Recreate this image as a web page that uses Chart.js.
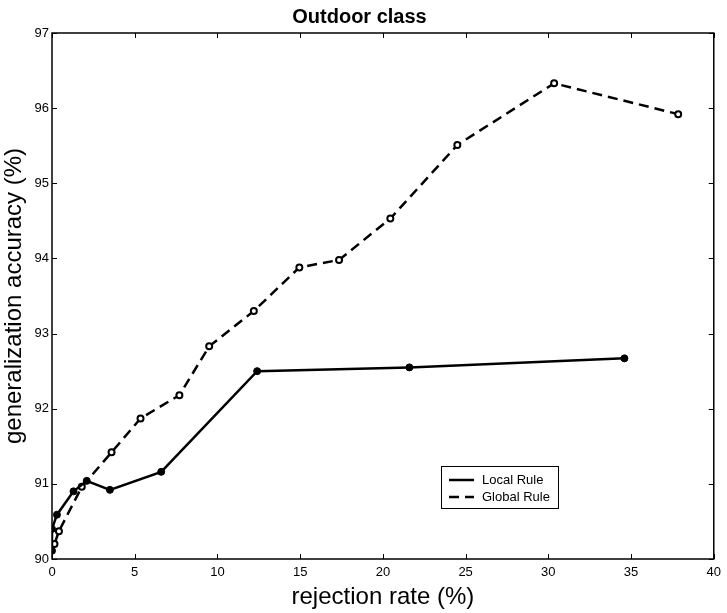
<!DOCTYPE html>
<html>
<head>
<meta charset="utf-8">
<script src="https://cdn.jsdelivr.net/npm/chart.js@4"></script>
<style>
  body { margin: 0; background: #fff; }
  #wrap { width: 727px; height: 613px; }
</style>
</head>
<body>
<div id="wrap"><canvas id="myChart" width="727" height="613"></canvas></div>
<script>
// data
var localX  = [0, 0, 0.3, 1.3, 2.1, 3.5, 6.6, 12.4, 21.6, 34.6];
var localY  = [90.11, 90.4, 90.59, 90.9, 91.04, 90.92, 91.16, 92.5, 92.55, 92.67];
var globalX = [0.15, 0.42, 1.8, 3.6, 5.35, 7.7, 9.5, 12.2, 14.95, 17.35, 20.45, 24.5, 30.35, 37.85];
var globalY = [90.2, 90.37, 90.96, 91.42, 91.87, 92.18, 92.83, 93.3, 93.88, 93.98, 94.53, 95.51, 96.33, 95.92];
var seriesNames = ['Local Rule', 'Global Rule'];
var xTicks = [0, 5, 10, 15, 20, 25, 30, 35, 40];
var yTicks = [90, 91, 92, 93, 94, 95, 96, 97];

function pairs(xs, ys) {
    var out = [];
    for (var i = 0; i < xs.length; i++) {
        out.push({x: xs[i], y: ys[i]});
    }
    return out;
}

var FONT = '"Liberation Sans", Arial, sans-serif';

// frame with inward ticks on all four sides, like the matlab box
var framePlugin = {
    id: 'frame',
    afterDraw: function(chart) {
        var ctx = chart.ctx;
        var a = chart.chartArea;
        var xs = chart.scales.x, ys = chart.scales.y;
        var len = 5;
        ctx.save();
        ctx.strokeStyle = '#000';
        ctx.lineWidth = 1.5;
        ctx.strokeRect(a.left, a.top, a.right - a.left, a.bottom - a.top);
        ctx.lineWidth = 1;
        ctx.beginPath();
        for (var i = 0; i < xTicks.length; i++) {
            var px = Math.round(xs.getPixelForValue(xTicks[i])) + 0.5;
            ctx.moveTo(px, a.bottom); ctx.lineTo(px, a.bottom - len);
            ctx.moveTo(px, a.top); ctx.lineTo(px, a.top + len);
        }
        for (var j = 0; j < yTicks.length; j++) {
            var py = Math.round(ys.getPixelForValue(yTicks[j])) + 0.5;
            ctx.moveTo(a.left, py); ctx.lineTo(a.left + len, py);
            ctx.moveTo(a.right, py); ctx.lineTo(a.right - len, py);
        }
        ctx.stroke();

        // legend box
        var bx = 441, by = 466, bw = 117, bh = 42;
        ctx.fillStyle = '#fff';
        ctx.fillRect(bx, by, bw, bh);
        ctx.lineWidth = 1;
        ctx.strokeRect(bx + 0.5, by + 0.5, bw, bh);
        ctx.font = '13px ' + FONT;
        ctx.textBaseline = 'middle';
        ctx.textAlign = 'left';
        for (var k = 0; k < chart.data.datasets.length; k++) {
            var ds = chart.data.datasets[k];
            var ry = by + 14 + k * 17;
            ctx.strokeStyle = '#000';
            ctx.lineWidth = 2.5;
            ctx.setLineDash(ds.borderDash || []);
            ctx.beginPath();
            ctx.moveTo(bx + 8, ry); ctx.lineTo(bx + 33, ry);
            ctx.stroke();
            ctx.setLineDash([]);
            ctx.fillStyle = '#000';
            ctx.fillText(ds.label, bx + 41, ry);
        }
        ctx.restore();
    }
};

var ctx = document.getElementById('myChart');
var chart = new Chart(ctx, {
    type: 'scatter',
    data: {
        datasets: [{
            label: seriesNames[0],
            data: pairs(localX, localY),
            showLine: true,
            borderColor: '#000',
            borderWidth: 2.5,
            pointRadius: 3.5,
            pointBackgroundColor: '#000',
            pointBorderColor: '#000',
            pointBorderWidth: 1
        }, {
            label: seriesNames[1],
            data: pairs(globalX, globalY),
            showLine: true,
            borderColor: '#000',
            borderWidth: 2.5,
            borderDash: [10, 6],
            pointRadius: 3,
            pointBackgroundColor: '#fff',
            pointBorderColor: '#000',
            pointBorderWidth: 2
        }]
    },
    options: {
        responsive: false,
        animation: false,
        layout: { padding: { left: 0, right: 8, top: 0, bottom: 0 } },
        plugins: {
            legend: { display: false },
            tooltip: { enabled: false },
            title: {
                display: true,
                text: 'Outdoor class',
                color: '#000',
                font: { family: FONT, size: 20, weight: 'bold', lineHeight: 1.2 },
                padding: { top: 5, bottom: 4 }
            }
        },
        scales: {
            x: {
                type: 'linear',
                min: 0, max: 40,
                afterBuildTicks: function(s) { s.ticks = xTicks.map(function(v) { return {value: v}; }); },
                afterFit: function(s) { s.height = 54; },
                grid: { display: false, drawTicks: false },
                border: { display: false },
                ticks: { color: '#000', padding: 6, maxRotation: 0, font: { family: FONT, size: 13 } },
                title: {
                    display: true,
                    text: 'rejection rate (%)',
                    color: '#000',
                    font: { family: FONT, size: 24, lineHeight: 1.2 },
                    padding: { top: 0, bottom: 1 }
                }
            },
            y: {
                type: 'linear',
                min: 90, max: 97,
                afterBuildTicks: function(s) { s.ticks = yTicks.map(function(v) { return {value: v}; }); },
                afterFit: function(s) { s.width = 52; },
                grid: { display: false, drawTicks: false },
                border: { display: false },
                ticks: { color: '#000', padding: 3, font: { family: FONT, size: 13 } },
                title: {
                    display: true,
                    text: 'generalization accuracy (%)',
                    color: '#000',
                    font: { family: FONT, size: 24, lineHeight: 1.2 },
                    padding: { top: 0, bottom: 0 }
                }
            }
        }
    },
    plugins: [framePlugin]
});
</script>
</body>
</html>
